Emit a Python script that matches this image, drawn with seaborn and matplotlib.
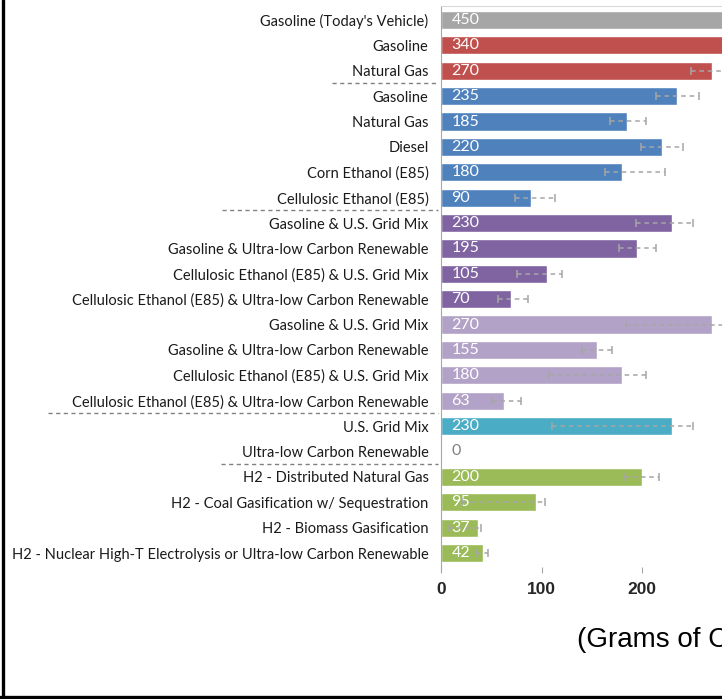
import numpy as np
import pandas as pd
import matplotlib
matplotlib.use("Agg")
import matplotlib.pyplot as plt
import matplotlib.transforms as mtransforms
from matplotlib.lines import Line2D
import seaborn as sns

labels = [
    "Gasoline (Today's Vehicle)", "Gasoline", "Natural Gas",
    "Gasoline", "Natural Gas", "Diesel", "Corn Ethanol (E85)", "Cellulosic Ethanol (E85)",
    "Gasoline & U.S. Grid Mix", "Gasoline & Ultra-low Carbon Renewable",
    "Cellulosic Ethanol (E85) & U.S. Grid Mix", "Cellulosic Ethanol (E85) & Ultra-low Carbon Renewable",
    "Gasoline & U.S. Grid Mix", "Gasoline & Ultra-low Carbon Renewable",
    "Cellulosic Ethanol (E85) & U.S. Grid Mix", "Cellulosic Ethanol (E85) & Ultra-low Carbon Renewable",
    "U.S. Grid Mix", "Ultra-low Carbon Renewable",
    "H2 - Distributed Natural Gas", "H2 - Coal Gasification w/ Sequestration",
    "H2 - Biomass Gasification", "H2 - Nuclear High-T Electrolysis or Ultra-low Carbon Renewable",
]
values = [450, 340, 270, 235, 185, 220, 180, 90, 230, 195, 105, 70,
          270, 155, 180, 63, 230, 0, 200, 95, 37, 42]
err_low = [np.nan, np.nan, 249, 214, 168, 199, 163, 74, 194, 177, 76, 57,
           184, 140, 107, 51, 110, np.nan, 182, 21, 8, 35]
err_high = [np.nan, np.nan, 295, 257, 204, 241, 223, 113, 251, 214, 120, 87,
            292, 170, 204, 80, 251, np.nan, 217, 103, 40, 47]
groups = ["today", "hev", "hev", "ice", "ice", "ice", "ice", "ice",
          "phev10", "phev10", "phev10", "phev10", "phev40", "phev40", "phev40", "phev40",
          "bev", "bev", "fcv", "fcv", "fcv", "fcv"]
group_colors = {"today": "#a6a6a6", "hev": "#c0504d", "ice": "#4f81bd", "phev10": "#8064a2",
                "phev40": "#b3a2c7", "bev": "#4bacc6", "fcv": "#9bbb59"}
separators = [2.5, 7.5, 15.5, 17.5]
separator_start_px = [332, 222, 48, 221]

df = pd.DataFrame({"row": range(len(labels)), "value": values, "group": groups})
colors = [group_colors[g] for g in groups]

sns.set_style("white")
plt.rcParams["font.family"] = ["Lato", "DejaVu Sans"]

W, H = 722, 699
fig = plt.figure(figsize=(W / 100, H / 100), dpi=100)
ax = fig.add_axes([441 / W, 1 - 567 / H, 502.5 / W, 561 / H])

sns.barplot(data=df, x="value", y="row", hue="row", palette=colors, orient="h",
            dodge=False, legend=False, width=0.72, saturation=1, ax=ax)

# error ranges (dashed with small caps)
lo = np.array(err_low, dtype=float)
hi = np.array(err_high, dtype=float)
mid = (lo + hi) / 2
ok = ~np.isnan(mid)
rows = np.arange(len(labels))
eb = ax.errorbar(mid[ok], rows[ok], xerr=[(mid - lo)[ok], (hi - mid)[ok]], fmt="none",
                 ecolor="#a6a6a6", elinewidth=1.1, capsize=3, capthick=1.1, zorder=5)
eb[2][0].set_linestyle((0, (3, 2.5)))

# value labels
for r, v in enumerate(values):
    ax.annotate(str(v), xy=(0, r), xytext=(7.5, 0), textcoords="offset points",
                ha="left", va="center", fontsize=11.5,
                color="white" if v > 0 else "#808080")

ax.set_xlim(0, 500)
ax.set_ylim(21.55, -0.55)
ax.set_xticks([0, 100, 200])
ax.set_xticklabels(["0", "100", "200"], fontsize=12.5,
                   fontweight="bold", family="Liberation Sans")
ax.set_yticks(range(len(labels)))
ax.set_yticklabels(labels, fontsize=10.5, color="#1a1a1a")
ax.tick_params(axis="y", length=0, pad=9)
ax.tick_params(axis="x", length=4, width=0.8, color="#a6a6a6", pad=7, bottom=True)
ax.set_xlabel("")
ax.set_ylabel("")
for s in ["right", "bottom"]:
    ax.spines[s].set_visible(False)
ax.spines["left"].set_color("#a6a6a6")
ax.spines["left"].set_bounds(21.65, -0.55)
ax.spines["top"].set_color("#d9d9d9")
ax.spines["top"].set_linewidth(0.8)

# group separators in the label area
trans = mtransforms.blended_transform_factory(fig.transFigure, ax.transData)
for y, x0 in zip(separators, separator_start_px):
    ax.add_line(Line2D([x0 / W, 438 / W], [y, y], transform=trans, color="#808080",
                       lw=1, linestyle=(0, (3, 2.5)), clip_on=False))

fig.text(577 / W, 1 - 640 / H, "(Grams of CO2-equivalent per mile)", ha="left", va="center",
         fontsize=20, family="Liberation Sans", color="black")

# outer frame (left and bottom)
fig.add_artist(Line2D([3 / W, 3 / W], [0, 1], transform=fig.transFigure, color="black", lw=2.4))
fig.add_artist(Line2D([0, 1], [2.5 / H, 2.5 / H], transform=fig.transFigure, color="black", lw=2.4))

fig.savefig("out.png", dpi=100)
